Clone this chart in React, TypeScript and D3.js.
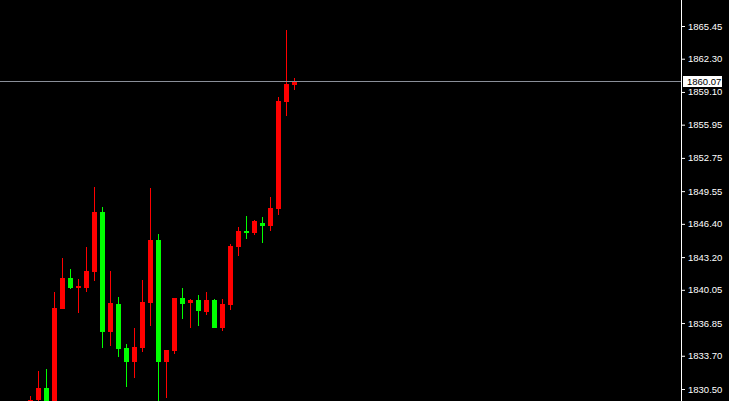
import React, { useRef, useEffect } from "react"
import * as d3 from "d3"

// candle data, oldest first (red = up, green = down)
const opens  = [1828.90, 1829.40, 1830.60, 1829.00, 1838.20, 1841.19, 1840.25, 1840.25, 1841.79, 1847.54, 1836.02, 1838.68, 1834.45, 1833.13, 1834.48, 1838.81, 1844.85, 1833.13, 1834.19, 1839.26, 1838.81, 1839.07, 1837.94, 1839.07, 1836.40, 1838.62, 1844.20, 1845.71, 1845.55, 1846.48, 1846.19, 1847.83, 1858.13, 1859.77]
const highs  = [1829.83, 1832.23, 1832.43, 1839.84, 1843.11, 1842.05, 1841.09, 1844.17, 1849.95, 1848.02, 1841.86, 1839.36, 1834.83, 1836.37, 1840.99, 1849.85, 1845.42, 1834.26, 1839.26, 1840.22, 1839.17, 1839.55, 1839.84, 1839.17, 1839.17, 1844.46, 1846.10, 1847.16, 1846.77, 1847.06, 1848.99, 1858.61, 1865.07, 1860.44]
const lows   = [1828.50, 1829.10, 1828.70, 1828.80, 1838.20, 1840.13, 1837.82, 1839.87, 1840.93, 1834.48, 1834.67, 1833.61, 1830.72, 1831.59, 1834.09, 1836.59, 1829.20, 1829.60, 1833.90, 1837.27, 1836.40, 1836.59, 1837.65, 1836.40, 1836.11, 1838.14, 1843.33, 1844.97, 1845.36, 1844.59, 1845.71, 1847.25, 1856.78, 1859.29]
const closes = [1829.44, 1830.60, 1829.00, 1838.30, 1841.19, 1840.25, 1840.42, 1841.86, 1847.54, 1836.02, 1838.78, 1834.38, 1833.13, 1834.54, 1838.88, 1844.85, 1833.13, 1834.26, 1839.26, 1838.71, 1839.07, 1838.04, 1839.07, 1836.40, 1838.68, 1844.27, 1845.71, 1845.55, 1846.68, 1846.22, 1847.93, 1858.23, 1859.87, 1860.07]

const priceTicks = [1865.45, 1862.30, 1859.10, 1855.95, 1852.75, 1849.55, 1846.40, 1843.20, 1840.05, 1836.85, 1833.70, 1830.50]
const lastPrice = 1860.07

const W = 729
const H = 401
const axisX = 681

const App: React.FC = () => {
  const axisRef = useRef<SVGGElement>(null)

  const x = d3.scaleLinear().domain([0, opens.length - 1]).range([30.5, 294.5])
  const y = d3.scaleLinear().domain([1830.50, 1865.45]).range([389, 26])

  useEffect(() => {
    if (!axisRef.current) return
    const axis = d3.axisRight(y)
      .tickValues(priceTicks)
      .tickFormat(d3.format(".2f"))
      .tickSize(3)
      .tickPadding(3)
    const g = d3.select(axisRef.current)
    g.call(axis as any)
    g.select(".domain").remove()
    g.selectAll(".tick line").attr("stroke", "#fff")
    g.selectAll(".tick text")
      .attr("fill", "#fff")
      .attr("font-family", "Liberation Sans, Arial, sans-serif")
      .attr("font-size", 9.5)
  }, [])

  const lineY = Math.floor(y(lastPrice)) + 0.5

  return (
    <svg width={W} height={H} style={{ position: "fixed", left: 0, top: 0, background: "#000" }}>
      <rect x={0} y={0} width={W} height={H} fill="#000" />
      <g shapeRendering="crispEdges">
        {opens.map((o, i) => {
          const c = closes[i]
          const up = c >= o
          const col = up ? "#ff0000" : "#00ff00"
          const cx = x(i)
          const top = y(Math.max(o, c))
          const bot = y(Math.min(o, c))
          return (
            <g key={i}>
              <line x1={cx} x2={cx} y1={y(highs[i])} y2={y(lows[i])} stroke={col} strokeWidth={1} />
              <rect x={cx - 2.5} y={top} width={5} height={Math.max(1.5, bot - top)} fill={col} />
            </g>
          )
        })}
        <line x1={0} x2={axisX} y1={lineY} y2={lineY} stroke="#8a8f99" strokeWidth={1} />
        <line x1={axisX + 0.5} x2={axisX + 0.5} y1={0} y2={H} stroke="#fff" strokeWidth={1} />
      </g>
      <g ref={axisRef} transform={`translate(${axisX + 1},0)`} />
      <rect x={683} y={76} width={39} height={11} fill="#fff" />
      <text x={687} y={lineY} dy="0.32em" fill="#000" fontFamily="Liberation Sans, Arial, sans-serif" fontSize={9.5}>
        {lastPrice.toFixed(2)}
      </text>
    </svg>
  )
}

export default App
